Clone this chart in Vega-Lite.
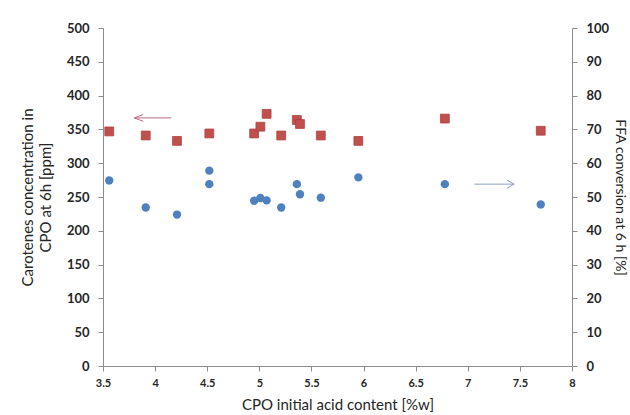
{
  "$schema": "https://vega.github.io/schema/vega-lite/v6.json",
  "width": 469,
  "height": 338,
  "autosize": {"type": "none"},
  "padding": {"left": 103, "top": 28, "right": 58, "bottom": 49},
  "background": "white",
  "config": {
    "view": {"stroke": null},
    "font": "Lato",
    "axis": {
      "grid": false,
      "domainColor": "#8c8c8c",
      "tickColor": "#8c8c8c",
      "labelColor": "#262626",
      "titleColor": "#262626",
      "labelFont": "Lato",
      "titleFont": "Lato",
      "labelFontWeight": "bold",
      "titleFontWeight": "normal",
      "labelOverlap": false,
      "labelFlush": false,
      "tickSize": 5
    }
  },
  "datasets": {
    "carotenes": [
      {"acid": 3.56, "carotenes": 347},
      {"acid": 3.91, "carotenes": 341},
      {"acid": 4.21, "carotenes": 333},
      {"acid": 4.52, "carotenes": 344},
      {"acid": 4.95, "carotenes": 344},
      {"acid": 5.01, "carotenes": 354},
      {"acid": 5.07, "carotenes": 373},
      {"acid": 5.21, "carotenes": 341},
      {"acid": 5.36, "carotenes": 364},
      {"acid": 5.39, "carotenes": 358},
      {"acid": 5.59, "carotenes": 341},
      {"acid": 5.95, "carotenes": 333},
      {"acid": 6.78, "carotenes": 366},
      {"acid": 7.70, "carotenes": 348}
    ],
    "ffa": [
      {"acid": 3.56, "ffa": 54.9},
      {"acid": 3.91, "ffa": 46.9},
      {"acid": 4.21, "ffa": 44.8},
      {"acid": 4.52, "ffa": 57.8},
      {"acid": 4.52, "ffa": 53.8},
      {"acid": 4.95, "ffa": 48.9},
      {"acid": 5.01, "ffa": 49.7},
      {"acid": 5.07, "ffa": 49.0},
      {"acid": 5.21, "ffa": 46.9},
      {"acid": 5.36, "ffa": 53.8},
      {"acid": 5.39, "ffa": 50.8},
      {"acid": 5.59, "ffa": 49.8},
      {"acid": 5.95, "ffa": 55.8},
      {"acid": 6.78, "ffa": 53.8},
      {"acid": 7.70, "ffa": 47.8}
    ],
    "leftArrow": [
      {"acid": 3.80, "acid2": 4.155, "carotenes": 367, "carotenes2": 367},
      {"acid": 3.80, "acid2": 3.885, "carotenes": 367, "carotenes2": 372},
      {"acid": 3.80, "acid2": 3.885, "carotenes": 367, "carotenes2": 362}
    ],
    "rightArrow": [
      {"acid": 7.063, "acid2": 7.445, "ffa": 53.8, "ffa2": 53.8},
      {"acid": 7.445, "acid2": 7.375, "ffa": 53.8, "ffa2": 55.0},
      {"acid": 7.445, "acid2": 7.375, "ffa": 53.8, "ffa2": 52.6}
    ]
  },
  "layer": [
    {
      "layer": [
        {
          "data": {"name": "carotenes"},
          "mark": {"type": "square", "size": 78, "filled": true, "color": "#C0504D", "stroke": "#B0403D", "strokeWidth": 0.8, "opacity": 1},
          "encoding": {
            "x": {
              "field": "acid", "type": "quantitative",
              "scale": {"domain": [3.5, 8], "nice": false, "zero": false},
              "axis": {
                "title": "CPO initial acid content [%w]",
                "values": [3.5, 4, 4.5, 5, 5.5, 6, 6.5, 7, 7.5, 8],
                "format": "~g",
                "labelFontSize": 11,
                "labelPadding": 6,
                "titleFontSize": 15,
                "titlePadding": 9
              }
            },
            "y": {
              "field": "carotenes", "type": "quantitative",
              "scale": {"domain": [0, 500], "nice": false},
              "axis": {
                "orient": "left",
                "title": ["Carotenes concentration in", "CPO at 6h [ppm]"],
                "values": [0, 50, 100, 150, 200, 250, 300, 350, 400, 450, 500],
                "labelOverlap": false,
                "labelFontSize": 13,
                "labelPadding": 9,
                "titleFontSize": 15,
                "titleLineHeight": 18,
                "titlePadding": 13
              }
            }
          }
        },
        {
          "data": {"name": "leftArrow"},
          "mark": {"type": "rule", "color": "#B86A84", "strokeWidth": 1},
          "encoding": {
            "x": {"field": "acid", "type": "quantitative"},
            "x2": {"field": "acid2"},
            "y": {
              "field": "carotenes", "type": "quantitative",
              "axis": {
                "orient": "left",
                "title": ["Carotenes concentration in", "CPO at 6h [ppm]"],
                "values": [0, 50, 100, 150, 200, 250, 300, 350, 400, 450, 500],
                "labelOverlap": false,
                "labelFontSize": 13,
                "labelPadding": 9,
                "titleFontSize": 15,
                "titleLineHeight": 18,
                "titlePadding": 13
              }
            },
            "y2": {"field": "carotenes2"}
          }
        }
      ]
    },
    {
      "layer": [
        {
          "data": {"name": "ffa"},
          "mark": {"type": "circle", "size": 70, "color": "#4F81BD", "opacity": 1},
          "encoding": {
            "x": {"field": "acid", "type": "quantitative"},
            "y": {
              "field": "ffa", "type": "quantitative",
              "scale": {"domain": [0, 100], "nice": false},
              "axis": {
                "orient": "right",
                "title": "FFA conversion at 6 h [%]",
                "values": [0, 10, 20, 30, 40, 50, 60, 70, 80, 90, 100],
                "labelOverlap": false,
                "labelFontSize": 13,
                "labelPadding": 9,
                "titleFontSize": 14,
                "titlePadding": 4
              }
            }
          }
        },
        {
          "data": {"name": "rightArrow"},
          "mark": {"type": "rule", "color": "#8FA3BE", "strokeWidth": 1},
          "encoding": {
            "x": {"field": "acid", "type": "quantitative"},
            "x2": {"field": "acid2"},
            "y": {
              "field": "ffa", "type": "quantitative",
              "axis": {
                "orient": "right",
                "title": "FFA conversion at 6 h [%]",
                "values": [0, 10, 20, 30, 40, 50, 60, 70, 80, 90, 100],
                "labelOverlap": false,
                "labelFontSize": 13,
                "labelPadding": 9,
                "titleFontSize": 14,
                "titlePadding": 4
              }
            },
            "y2": {"field": "ffa2"}
          }
        }
      ]
    }
  ],
  "resolve": {"scale": {"y": "independent"}}
}
